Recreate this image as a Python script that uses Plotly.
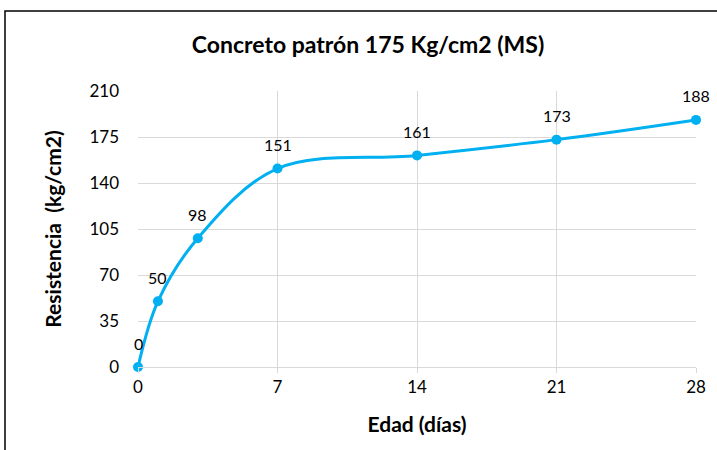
import plotly.graph_objects as go

dias = [0, 1, 3, 7, 14, 21, 28]
resistencia = [0, 50, 98, 151, 161, 173, 188]
x_ticks = [0, 7, 14, 21, 28]
y_ticks = [0, 35, 70, 105, 140, 175, 210]

FONT = "Lato"
COLOR = "#00B0F0"

fig = go.Figure()
fig.add_trace(go.Scatter(
    x=dias, y=resistencia, mode="lines+markers",
    line=dict(color=COLOR, width=3, shape="spline", smoothing=1),
    marker=dict(color=COLOR, size=10),
    cliponaxis=False, hoverinfo="x+y",
))
for xv, yv in zip(dias, resistencia):
    fig.add_annotation(x=xv, y=yv, text=str(yv), showarrow=False,
                       yshift=24, font=dict(family=FONT, size=16, color="#000000"))

fig.update_layout(
    width=717, height=450,
    margin=dict(l=138, r=21, t=91, b=83),
    paper_bgcolor="white", plot_bgcolor="white",
    showlegend=False,
    font=dict(family=FONT, color="#000000"),
    title=dict(text="<b>Concreto patrón 175 Kg/cm2 (MS)</b>", x=368 / 717, xref="container",
               xanchor="center", y=1 - 45 / 450, yref="container", yanchor="middle",
               font=dict(family=FONT, size=23, color="#000000")),
    xaxis=dict(range=[0, 28], tickvals=x_ticks, ticktext=[str(v) for v in x_ticks],
               showgrid=True, gridcolor="#D9D9D9", gridwidth=1,
               showline=True, linecolor="#D9D9D9", linewidth=1,
               ticks="outside", ticklen=5, tickcolor="#D9D9D9",
               tickfont=dict(family=FONT, size=17), zeroline=False,
               title=dict(text="<b>Edad (días)</b>", standoff=20,
                          font=dict(family=FONT, size=21))),
    yaxis=dict(range=[0, 210], tickvals=y_ticks, ticktext=[str(v) for v in y_ticks],
               showgrid=True, gridcolor="#D9D9D9", gridwidth=1,
               showline=False, zeroline=False, ticks="",
               ticklabelstandoff=18,
               tickfont=dict(family=FONT, size=17),
               title=dict(text="<b>Resistencia  (kg/cm2)</b>", standoff=22,
                          font=dict(family=FONT, size=21))),
)
fig.add_shape(type="rect", xref="paper", yref="paper",
              x0=(5 - 138) / 558, x1=(730 - 138) / 558,
              y0=(367 - 470) / 276, y1=(367 - 11) / 276,
              line=dict(color="#000000", width=1.5), fillcolor="rgba(0,0,0,0)", layer="below")

fig.write_html("out.html", config={"displayModeBar": False},
               post_script="document.body.style.margin='0px';document.body.style.overflow='hidden';")
